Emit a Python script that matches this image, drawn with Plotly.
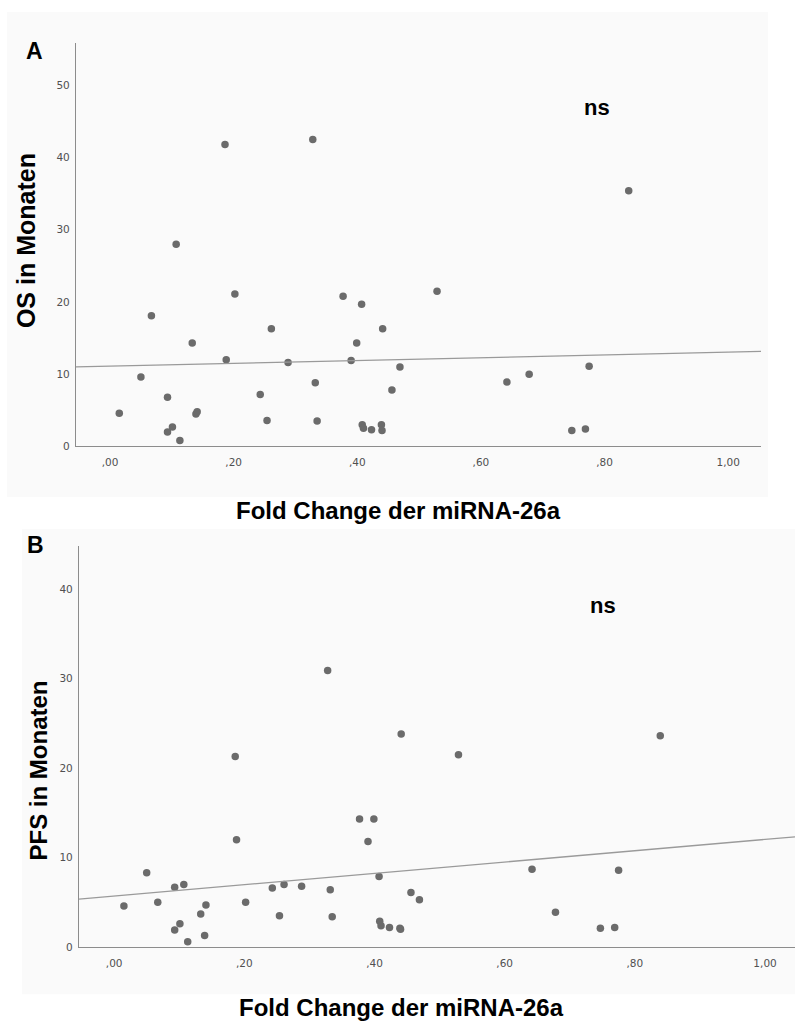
import numpy as np
import plotly.graph_objects as go

# Fold change of miRNA-26a per patient (shared by both panels)
fold_change = [0.015, 0.050, 0.067, 0.093, 0.093, 0.101, 0.107, 0.113, 0.133, 0.139,
               0.141, 0.186, 0.188, 0.202, 0.243, 0.254, 0.261, 0.288, 0.328, 0.332,
               0.335, 0.377, 0.390, 0.399, 0.407, 0.408, 0.410, 0.423, 0.439, 0.440,
               0.441, 0.456, 0.469, 0.529, 0.642, 0.678, 0.747, 0.769, 0.775, 0.839]

# Overall survival (months)
os_months = [4.6, 9.6, 18.1, 6.8, 2.0, 2.7, 28.0, 0.8, 14.3, 4.5,
             4.8, 41.8, 12.0, 21.1, 7.2, 3.6, 16.3, 11.6, 42.5, 8.8,
             3.5, 20.8, 11.9, 14.3, 19.7, 3.0, 2.5, 2.3, 3.0, 2.2,
             16.3, 7.8, 11.0, 21.5, 8.9, 10.0, 2.2, 2.4, 11.1, 35.4]

# Progression-free survival (months)
pfs_months = [4.6, 8.3, 5.0, 6.7, 1.9, 2.6, 7.0, 0.6, 3.7, 1.3,
              4.7, 21.3, 12.0, 5.0, 6.6, 3.5, 7.0, 6.8, 30.9, 6.4,
              3.4, 14.3, 11.8, 14.3, 7.9, 2.9, 2.4, 2.2, 2.1, 2.0,
              23.8, 6.1, 5.3, 21.5, 8.7, 3.9, 2.1, 2.2, 8.6, 23.6]

x_tick_vals = [0.0, 0.2, 0.4, 0.6, 0.8, 1.0]
x_tick_text = [",00", ",20", ",40", ",60", ",80", "1,00"]
os_ticks = [0, 10, 20, 30, 40, 50]
pfs_ticks = [0, 10, 20, 30, 40]

W, H = 795, 1027


def px(x):
    return x / W


def py(y):
    return 1 - y / H


DOT = "#6b6b6b"
FIT = "#9a9a9a"
AXIS = "#8c8c8c"
TICKFONT = dict(family="DejaVu Sans", size=10.5, color="#505050")
BOLD = "Liberation Sans, Arial, sans-serif"

fig = go.Figure()

panels = [
    dict(y=os_months, xa="x", ya="y", xr=[-0.055, 1.053], yr=[0, 55.9]),
    dict(y=pfs_months, xa="x2", ya="y2", xr=[-0.054, 1.046], yr=[0, 44.8]),
]

for p in panels:
    fig.add_trace(go.Scatter(
        x=fold_change, y=p["y"], mode="markers", xaxis=p["xa"], yaxis=p["ya"],
        marker=dict(color=DOT, size=7.5, line=dict(width=0)),
        showlegend=False, hoverinfo="x+y"))
    # least-squares fit line across the whole x range
    slope, intercept = np.polyfit(fold_change, p["y"], 1)
    xs = np.array(p["xr"])
    fig.add_trace(go.Scatter(
        x=xs, y=intercept + slope * xs, mode="lines", xaxis=p["xa"], yaxis=p["ya"],
        line=dict(color=FIT, width=1.3), showlegend=False, hoverinfo="skip"))

axis_common = dict(showgrid=False, zeroline=False, showline=True, linecolor=AXIS,
                   linewidth=1.3, ticks="", tickfont=TICKFONT, fixedrange=True)

fig.update_layout(
    width=W, height=H,
    margin=dict(l=0, r=0, t=0, b=0),
    paper_bgcolor="white", plot_bgcolor="rgba(0,0,0,0)",
    xaxis=dict(domain=[px(76), px(761)], range=panels[0]["xr"], anchor="y",
               tickvals=x_tick_vals, ticktext=x_tick_text, ticklabelstandoff=6,
               **axis_common),
    yaxis=dict(domain=[py(449), py(43)], range=panels[0]["yr"], anchor="x",
               tickvals=os_ticks, ticklabelstandoff=3, **axis_common),
    xaxis2=dict(domain=[px(79), 1.0], range=panels[1]["xr"], anchor="y2",
                tickvals=x_tick_vals, ticktext=x_tick_text, ticklabelstandoff=6,
                **axis_common),
    yaxis2=dict(domain=[py(952.7), py(549.3)], range=panels[1]["yr"], anchor="x2",
                tickvals=pfs_ticks, ticklabelstandoff=3, **axis_common),
    shapes=[
        dict(type="rect", xref="paper", yref="paper", layer="below",
             x0=px(7), x1=px(768), y0=py(500), y1=py(12),
             fillcolor="#fafafa", line=dict(width=0)),
        dict(type="rect", xref="paper", yref="paper", layer="below",
             x0=px(22), x1=1.0, y0=py(1000), y1=py(532),
             fillcolor="#fafafa", line=dict(width=0)),
    ],
)


def label(text, x, y, size, angle=0):
    fig.add_annotation(text=f"<b>{text}</b>", x=px(x), y=py(y), xref="paper", yref="paper",
                       xanchor="center", yanchor="middle", showarrow=False,
                       textangle=angle, font=dict(family=BOLD, size=size, color="black"))


label("A", 34.5, 51.5, 23)
label("B", 35, 548, 23)
label("ns", 596.5, 108, 22)
label("ns", 602.5, 609, 22)
label("OS in Monaten", 26, 242.5, 25, -90)
label("PFS in Monaten", 38, 775, 24, -90)
label("Fold Change der miRNA-26a", 398.5, 513, 24)
label("Fold Change der miRNA-26a", 401, 1013, 24)

fig.write_html("out.html")
